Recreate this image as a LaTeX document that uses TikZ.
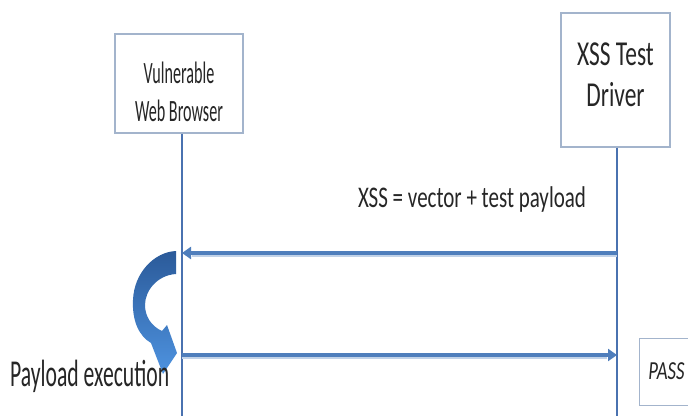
\documentclass[tikz,border=0pt]{standalone}
\usepackage{fontspec}
\usepackage{graphicx}
\newfontfamily\calfont{Carlito}
\usetikzlibrary{arrows.meta}
\definecolor{boxline}{HTML}{A3B4CC}
\definecolor{lifeblue}{HTML}{4A72B0}
\definecolor{arrowblue}{HTML}{4F7EBC}
\definecolor{curvetop}{HTML}{2B5A99}
\definecolor{curvebot}{HTML}{4E93E0}
\newcommand{\boxtext}[3]{\raisebox{#1}[0pt][0pt]{\scalebox{#2}[1]{\begin{tabular}[t]{@{}c@{}}#3\end{tabular}}}}
\begin{document}
\begin{tikzpicture}[x=1pt,y=-1pt,
  actorbox/.style={draw=boxline, line width=1.4pt, fill=white, rectangle, inner sep=0pt},
  lifeline/.style={draw=lifeblue, line width=1.5pt},
  msg/.style={draw=arrowblue, line width=3.6pt, -{Triangle[length=9pt,width=12pt]}},
  msgshadow/.style={draw=arrowblue!35, line width=2pt},
  lbl/.style={inner sep=0pt, text=black!85}
]
\useasboundingbox (0,0) rectangle (688,416);
\clip (0,0) rectangle (688,416);
\fill[white] (0,0) rectangle (688,416);

% actor boxes
\node[actorbox, minimum width=128pt, minimum height=99pt,
      font={\calfont\fontsize{31}{38}\selectfont}, text=black!85] (lb) at (179,83.5)
  {\boxtext{0.5pt}{0.52}{Vulnerable\\Web Browser}};
\node[actorbox, minimum width=109pt, minimum height=134pt,
      font={\calfont\fontsize{35}{41}\selectfont}, text=black!85] (rb) at (615.5,80)
  {\boxtext{15pt}{0.67}{XSS Test\\Driver}};

% lifeline ends
\coordinate (lbend) at (182,416);
\coordinate (rbend) at (617,416);
\draw[lifeline] (lb.south -| lbend) -- (lbend);
\draw[lifeline] (rb.south -| rbend) -- (rbend);

% message points
\coordinate (m1r) at (617,253);
\coordinate (m1l) at (182,253);
\coordinate (m2l) at (182,355);
\coordinate (m2r) at (617,355);

\draw[msgshadow] ([yshift=-3pt]m1r) -- ([yshift=-3pt,xshift=10pt]m1l);
\draw[msg] (m1r) -- (m1l);
\draw[msgshadow] ([yshift=-3pt]m2l) -- ([yshift=-3pt,xshift=-10pt]m2r);
\draw[msg] (m2l) -- (m2r);

% message label
\node[lbl, font={\calfont\fontsize{30}{34}\selectfont}, anchor=base] (t1) at (472,207)
  {\scalebox{0.70}[1]{XSS = vector + test payload}};

% curved arrow (payload execution)
\shade[top color=curvetop, bottom color=curvebot]
  (176,251) .. controls (154,252) and (134,273) .. (133,300)
  .. controls (132,321) and (139,336) .. (151,343)
  -- (163,374) -- (177,353) -- (167,325) -- (162,331)
  .. controls (151,326) and (145,316) .. (145,305)
  .. controls (145,290) and (158,275) .. (176,274) -- cycle;

\node[lbl, font={\calfont\fontsize{38}{40}\selectfont}, anchor=base west] (t2) at (10,386)
  {\scalebox{0.57}[1]{Payload execution}};

% PASS box
\node[actorbox, line width=1pt, anchor=west, minimum width=70pt, minimum height=67pt,
      font={\calfont\itshape\fontsize{26}{30}\selectfont}, text=black!85] (pass) at (639,371.5)
  {\hspace*{-16pt}\raisebox{-1pt}{\scalebox{0.72}[1]{PASS}}};
\end{tikzpicture}
\end{document}
